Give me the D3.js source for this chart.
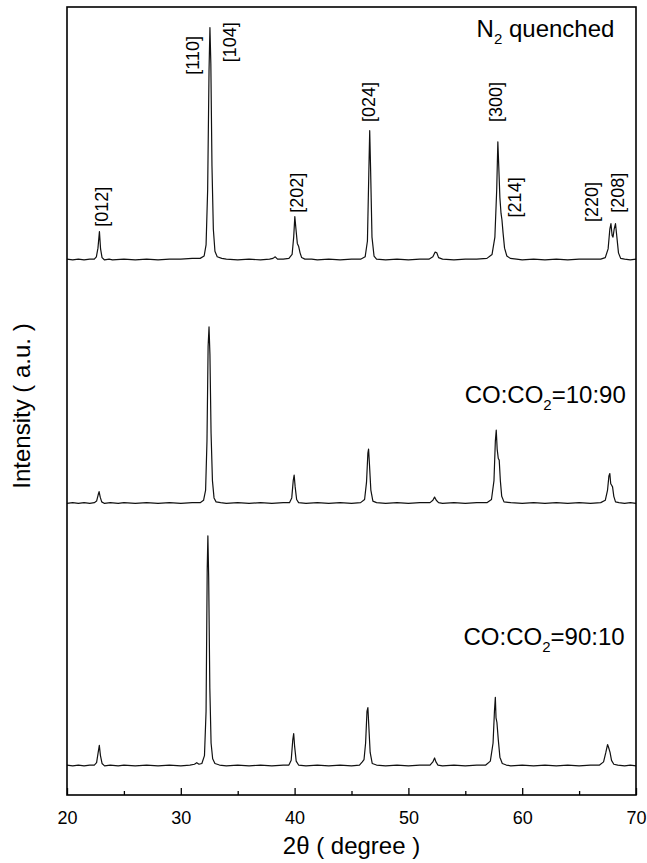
<!DOCTYPE html>
<html>
<head>
<meta charset="utf-8">
<script src="https://cdn.jsdelivr.net/npm/d3@7"></script>
<style>
  body { margin: 0; background: #fff; }
  svg { display: block; font-family: "Liberation Sans", Arial, sans-serif; }
  .trace { fill: none; stroke: #111; stroke-width: 1.2; stroke-linejoin: round; }
  .frame { fill: none; stroke: #000; stroke-width: 1.6; }
  .axis path { display: none; }
  .axis line { stroke: #000; stroke-width: 1.3; }
  .axis text { font-size: 18px; fill: #000; }
</style>
</head>
<body>
<svg id="chart"></svg>
<script>
// DATA  (2θ in degree, intensity in a.u. above each pattern's own baseline)
var xTicks = [20, 30, 40, 50, 60, 70];
var xMinorTicks = [25, 35, 45, 55, 65];

var offsets = [678, 369, 36];   // vertical shift of each pattern

var n2Quenched = [
  [20.0,2],[20.5,1],[21.0,2],[21.5,1],[22.0,2],[22.4,2],[22.58,5],[22.72,16],[22.85,37],[22.95,15],[23.08,4],[23.3,1],
  [23.7,2],[24,1],[25,2],[26,1],[27,2],[28,1],[29,2],[30,2],[31,3],[31.7,3],[32.05,6],[32.22,20],[32.36,90],
  [32.48,240],[32.56,296],[32.64,250],[32.74,120],[32.86,40],[33.0,12],[33.2,5],[33.6,3],[34,2],[35,1],[36,2],
  [37,1],[37.8,2],[38.1,3],[38.3,5],[38.5,2],[39,2],[39.5,3],[39.78,8],[39.92,30],[40.02,56],[40.12,40],
  [40.24,22],[40.36,18],[40.48,10],[40.62,4],[40.9,2],[41.5,2],[42,1],[43,2],[44,1],[45,2],[45.8,2],[46.2,5],
  [46.4,25],[46.52,110],[46.6,165],[46.68,115],[46.8,30],[46.98,6],[47.2,2],[48,1],[49,2],[50,1],[51,2],[51.8,2],
  [52.15,5],[52.35,11],[52.5,10],[52.65,4],[53,2],[54,1],[55,2],[56,2],[56.9,3],[57.35,8],[57.6,30],[57.76,90],
  [57.86,151],[57.94,120],[58.04,80],[58.14,60],[58.22,52],[58.32,35],[58.45,16],[58.65,6],[58.95,3],[59.5,2],
  [60,1],[61,2],[62,1],[63,2],[64,1],[65,2],[66,2],[66.9,2],[67.3,4],[67.55,15],[67.7,40],[67.8,47],[67.9,32],
  [67.98,30],[68.08,40],[68.2,47],[68.32,30],[68.46,10],[68.65,3],[69,2],[69.5,1],[70,2]
];

var coCo2_10_90 = [
  [20.0,1],[20.5,2],[21.0,1],[21.5,2],[22.0,1],[22.4,2],[22.6,4],[22.74,12],[22.82,16],[22.92,9],[23.05,3],[23.3,1],
  [23.8,2],[24.5,1],[25,2],[26,1],[27,2],[28,1],[29,2],[30,1],[31,2],[31.7,2],[32.0,5],[32.18,18],[32.3,80],
  [32.4,200],[32.48,225],[32.56,190],[32.66,90],[32.78,30],[32.92,8],[33.1,3],[33.5,2],[34,1],[35,2],[36,1],[37,2],
  [38,1],[39,2],[39.55,2],[39.75,8],[39.88,30],[39.96,37],[40.05,22],[40.18,6],[40.35,2],[41,1],[42,2],[43,1],
  [44,2],[45,1],[45.8,2],[46.15,6],[46.32,28],[46.44,65],[46.5,70],[46.58,50],[46.7,18],[46.88,4],[47.2,2],[48,1],
  [49,2],[50,1],[51,2],[51.9,2],[52.15,5],[52.3,9],[52.45,5],[52.65,2],[53,1],[54,2],[55,1],[56,2],[56.9,2],
  [57.3,6],[57.52,30],[57.64,80],[57.72,94],[57.8,70],[57.9,58],[57.98,56],[58.08,30],[58.2,10],[58.4,3],[59,2],
  [60,1],[61,2],[62,1],[63,2],[64,1],[65,2],[66,1],[66.9,2],[67.3,5],[67.5,18],[67.62,36],[67.7,39],[67.78,26],
  [67.86,24],[67.94,22],[68.05,10],[68.2,3],[68.5,2],[69,1],[69.5,2],[70,1]
];

var coCo2_90_10 = [
  [20.0,2],[20.5,1],[21.0,2],[21.5,1],[22.0,2],[22.4,2],[22.6,5],[22.74,18],[22.84,27],[22.94,14],[23.08,4],[23.3,1],
  [23.8,2],[24.5,1],[25,2],[26,1],[27,2],[28,1],[29,2],[30,1],[30.8,2],[31.2,3],[31.4,5],[31.6,3],[31.85,4],
  [32.08,14],[32.22,70],[32.32,250],[32.38,293],[32.45,240],[32.55,100],[32.66,30],[32.8,10],[33.0,4],[33.4,2],
  [34,1],[35,2],[36,1],[37,2],[38,1],[39,2],[39.5,2],[39.7,8],[39.84,34],[39.92,42],[40.0,26],[40.14,7],[40.35,2],
  [41,1],[42,2],[43,1],[44,2],[45,1],[45.7,2],[45.95,6],[46.1,9],[46.24,30],[46.36,70],[46.44,75],[46.52,52],
  [46.64,18],[46.82,4],[47.2,2],[48,1],[49,2],[50,1],[51,2],[51.9,2],[52.15,6],[52.3,11],[52.42,6],[52.6,2],[53,1],
  [54,2],[55,1],[56,2],[56.8,2],[57.2,7],[57.44,30],[57.56,70],[57.64,88],[57.7,62],[57.78,56],[57.9,34],[58.04,12],
  [58.25,4],[58.6,2],[59,1],[60,2],[61,1],[62,2],[63,1],[64,2],[65,1],[66,2],[66.8,2],[67.15,6],[67.35,18],
  [67.5,28],[67.6,24],[67.72,18],[67.85,8],[68.05,3],[68.4,2],[69,1],[69.5,2],[70,1]
];

var patterns = [n2Quenched, coCo2_10_90, coCo2_90_10];

// sample labels: text pieces, "sub" marks the subscript
var sampleLabels = [
  [["N", ""], ["2", "sub"], [" quenched", ""]],
  [["CO:CO", ""], ["2", "sub"], ["=10:90", ""]],
  [["CO:CO", ""], ["2", "sub"], ["=90:10", ""]]
];
var sampleLabelX = [68.1, 69.1, 69.0];      // right end, 2θ
var sampleLabelY = [962, 498, 190];         // baseline, a.u.

// Miller indices of the top pattern
var peakNames = ["[012]", "[110]", "[104]", "[202]", "[024]", "[300]", "[214]", "[220]", "[208]"];
var peakLabelX = [23.08, 31.07, 34.32, 40.2, 46.54, 57.7, 59.37, 66.13, 68.42];
var peakLabelY = [721, 914, 930, 739, 854, 854, 733, 727, 739];   // start of text, a.u.

// LAYOUT
var width = 647, height = 863;
var margin = {top: 7, right: 11, bottom: 68, left: 67};
var svg = d3.select("#chart").attr("width", width).attr("height", height);

var x = d3.scaleLinear().domain([20, 70]).range([margin.left, width - margin.right]);
var y = d3.scaleLinear().domain([0, 1000]).range([height - margin.bottom, margin.top]);

// AXES
svg.append("g")
  .attr("class", "axis")
  .attr("transform", "translate(0," + (height - margin.bottom) + ")")
  .call(d3.axisBottom(x).tickValues(xTicks).tickSizeInner(-7).tickSizeOuter(0).tickPadding(16).tickFormat(d3.format("d")));

svg.append("g")
  .attr("class", "axis")
  .attr("transform", "translate(0," + (height - margin.bottom) + ")")
  .call(d3.axisBottom(x).tickValues(xMinorTicks).tickSizeInner(-4).tickSizeOuter(0).tickFormat(""));

// TRACES
var line = d3.line()
  .x((d) => x(d[0]))
  .y((d) => y(d[1]));

svg.selectAll(".trace")
  .data(patterns)
  .enter()
  .append("path")
  .attr("class", "trace")
  .attr("d", (d, i) => line(d.map((p) => [p[0], p[1] + offsets[i]])));

// FRAME
svg.append("rect")
  .attr("class", "frame")
  .attr("x", margin.left)
  .attr("y", margin.top)
  .attr("width", width - margin.left - margin.right)
  .attr("height", height - margin.top - margin.bottom);

// SAMPLE LABELS
sampleLabels.forEach(function(parts, i) {
  var t = svg.append("text")
    .attr("x", x(sampleLabelX[i]))
    .attr("y", y(sampleLabelY[i]))
    .attr("text-anchor", "end")
    .style("font-size", "24px");
  parts.forEach(function(p) {
    var ts = t.append("tspan").text(p[0]);
    if (p[1] == "sub") ts.style("font-size", "15px").attr("dy", 7);
    else if (t.selectAll("tspan").size() > 1) ts.attr("dy", -7);
  });
});

// PEAK LABELS
svg.selectAll(".peakLabel")
  .data(peakNames)
  .enter()
  .append("text")
  .attr("class", "peakLabel")
  .attr("transform", (d, i) => "translate(" + x(peakLabelX[i]) + "," + y(peakLabelY[i]) + ") rotate(-90)")
  .attr("dy", "0.35em")
  .style("font-size", "18px")
  .text((d) => d);

// AXIS TITLES
svg.append("text")
  .attr("x", (x.range()[0] + x.range()[1]) / 2)
  .attr("y", 854)
  .attr("text-anchor", "middle")
  .style("font-size", "24px")
  .text("2\u03b8 ( degree )");

svg.append("text")
  .attr("transform", "translate(30," + 406 + ") rotate(-90)")
  .attr("text-anchor", "middle")
  .style("font-size", "24px")
  .text("Intensity ( a.u. )");
</script>
</body>
</html>
